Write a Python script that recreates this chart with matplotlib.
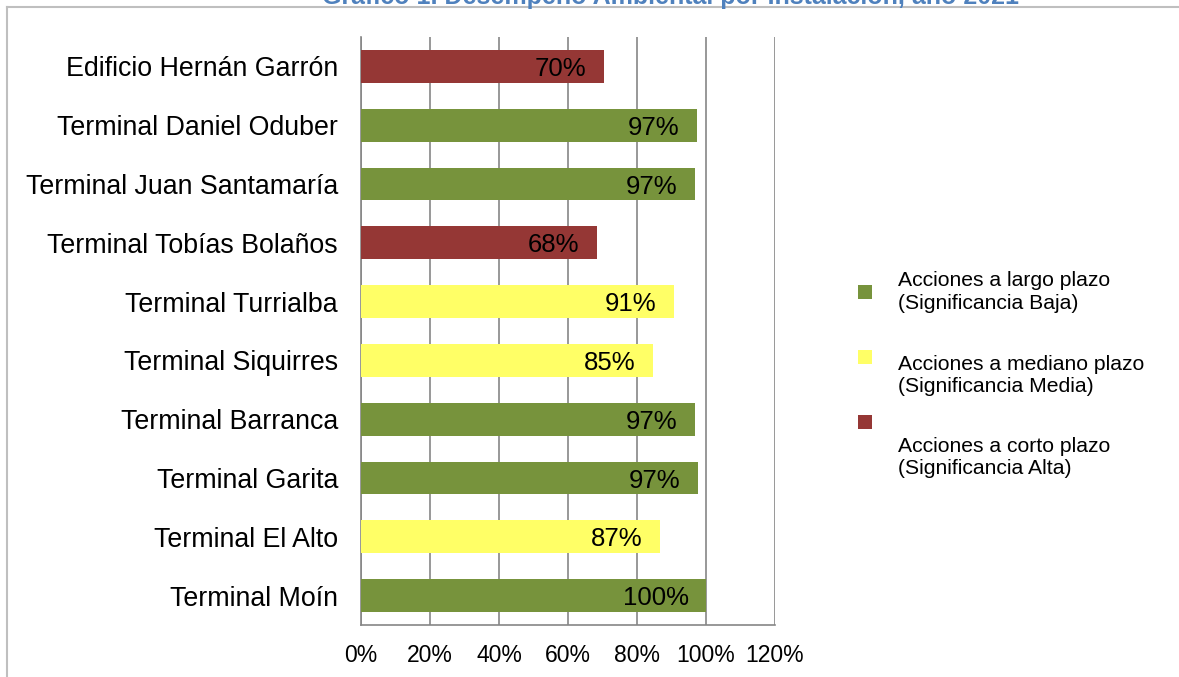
import matplotlib
matplotlib.use("Agg")
import matplotlib.pyplot as plt
from matplotlib.patches import Rectangle
from matplotlib.lines import Line2D

plt.rcParams['font.family'] = ['Liberation Sans', 'DejaVu Sans']

title = "Gráfico 1. Desempeño Ambiental por Instalación, año 2021"
categories = ["Edificio Hernán Garrón", "Terminal Daniel Oduber", "Terminal Juan Santamaría",
              "Terminal Tobías Bolaños", "Terminal Turrialba", "Terminal Siquirres",
              "Terminal Barranca", "Terminal Garita", "Terminal El Alto", "Terminal Moín"]
values = [70.4, 97.4, 96.8, 68.4, 90.7, 84.6, 96.8, 97.7, 86.7, 100.0]
labels = ["70%", "97%", "97%", "68%", "91%", "85%", "97%", "97%", "87%", "100%"]
significance = ["Alta", "Baja", "Baja", "Alta", "Media", "Media", "Baja", "Baja", "Media", "Baja"]
legend_groups = ["Baja", "Media", "Alta"]
legend_labels = ["Acciones a largo plazo\n(Significancia Baja)",
                 "Acciones a mediano plazo\n(Significancia Media)",
                 "Acciones a corto plazo\n(Significancia Alta)"]
xticks = [0, 20, 40, 60, 80, 100, 120]
xtick_labels = ["0%", "20%", "40%", "60%", "80%", "100%", "120%"]

colors = {"Baja": "#77933C", "Media": "#FFFF66", "Alta": "#953735"}

W, H = 1179, 677
fig = plt.figure(figsize=(W / 100, H / 100), dpi=100)

def fx(px):
    return px / W

def fy(py):
    return 1 - py / H

ax = fig.add_axes([fx(361), fy(625), fx(775) - fx(361), fy(37) - fy(625)])

ypos = list(range(len(categories)))
ax.barh(ypos, values, height=0.56, color=[colors[s] for s in significance], zorder=3)
for y, v, lab in zip(ypos, values, labels):
    ax.annotate(lab, xy=(v, y), xytext=(-12.5, 0), textcoords='offset points',
                ha='right', va='center_baseline', fontsize=18.5, color='black', zorder=4)

ax.set_xlim(0, 120)
ax.set_ylim(len(categories) - 0.5, -0.5)
ax.set_yticks(ypos)
ax.set_yticklabels(categories, fontsize=19.3)
ax.set_xticks(xticks)
ax.set_xticklabels(xtick_labels, fontsize=16.5)
ax.tick_params(axis='y', length=0, pad=16.5)
ax.tick_params(axis='x', length=0, pad=14)
ax.xaxis.grid(True, color='#868686', linewidth=1.2, zorder=1)
ax.set_axisbelow(True)
for s in ['top', 'right']:
    ax.spines[s].set_visible(False)
for s in ['left', 'bottom']:
    ax.spines[s].set_color('#868686')
    ax.spines[s].set_linewidth(1.2)

# legend (manual layout)
sq = 14
marker_centers = [292, 357, 422]
text_baselines = [(286, 309), (370, 392), (452, 474)]
for g, lab, mc, (b1, b2) in zip(legend_groups, legend_labels, marker_centers, text_baselines):
    fig.patches.append(Rectangle((fx(858), fy(mc + sq / 2)), sq / W, sq / H,
                                 transform=fig.transFigure, facecolor=colors[g],
                                 edgecolor='none'))
    l1, l2 = lab.split("\n")
    fig.text(fx(898), fy(b1), l1, fontsize=15.2, va='baseline', ha='left')
    fig.text(fx(898), fy(b2), l2, fontsize=15.2, va='baseline', ha='left')

# border frame
fig.add_artist(Line2D([fx(7), 1.0], [fy(7), fy(7)], transform=fig.transFigure,
                      color='#BFBFBF', linewidth=1.5))
fig.add_artist(Line2D([fx(7), fx(7)], [fy(7), 0.0], transform=fig.transFigure,
                      color='#BFBFBF', linewidth=1.5))

fig.text(fx(670), fy(4), title, fontsize=18, fontweight='bold', color='#4F81BD',
         ha='center', va='baseline')

fig.savefig("out.png", dpi=100)
